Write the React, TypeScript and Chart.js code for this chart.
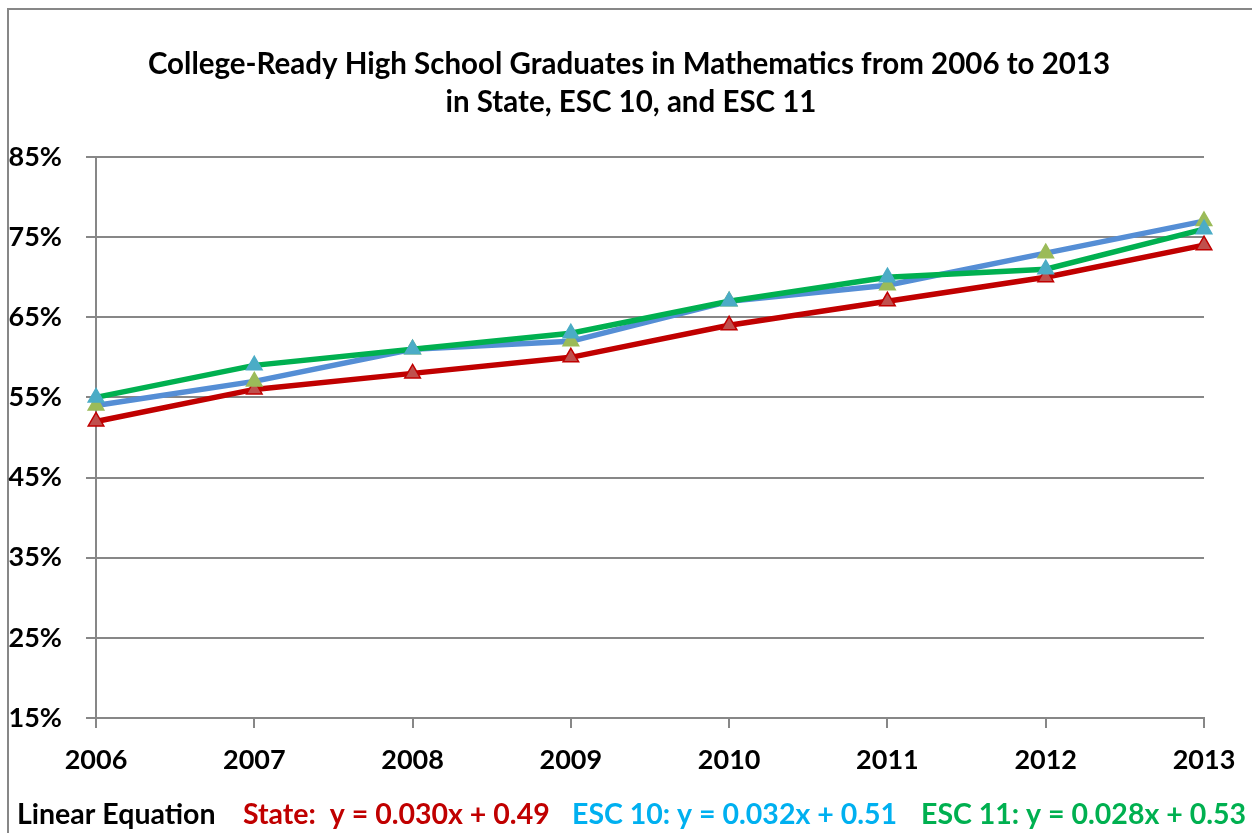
import { useEffect, useRef } from "react";
import { Chart, registerables } from "chart.js";

Chart.register(...registerables);

const years = ["2006", "2007", "2008", "2009", "2010", "2011", "2012", "2013"];
const stateValues = [52, 56, 58, 60, 64, 67, 70, 74];
const esc10Values = [54, 57, 61, 62, 67, 69, 73, 77];
const esc11Values = [55, 59, 61, 63, 67, 70, 71, 76];
const yMin = 15;
const yMax = 85;
const yStep = 10;
const titleLines = [
  "College-Ready High School Graduates in Mathematics from 2006 to 2013",
  "in State, ESC 10, and ESC 11",
];
const footerTexts = [
  "Linear Equation",
  "State:  y = 0.030x + 0.49",
  "ESC 10: y = 0.032x + 0.51",
  "ESC 11: y = 0.028x + 0.53",
];
const footerColors = ["#000000", "#C00000", "#00B0F0", "#00B050"];
const footerX = [17, 243, 572, 921];

const FONT = "Lato, 'Open Sans', sans-serif";
const GRID = "#878787";

const decorPlugin = {
  id: "decor",
  beforeDraw(chart: any) {
    const ctx = chart.ctx;
    ctx.save();
    ctx.fillStyle = "#ffffff";
    ctx.fillRect(0, 0, chart.width, chart.height);
    ctx.strokeStyle = GRID;
    ctx.lineWidth = 2;
    ctx.beginPath();
    ctx.moveTo(8, 900);
    ctx.lineTo(8, 9);
    ctx.lineTo(1300, 9);
    ctx.stroke();
    ctx.restore();
  },
  afterDraw(chart: any) {
    const ctx = chart.ctx;
    ctx.save();
    ctx.textBaseline = "middle";
    ctx.textAlign = "center";
    ctx.fillStyle = "#000";
    ctx.font = `bold 29.5px ${FONT}`;
    ctx.fillText(titleLines[0], 629, 64);
    ctx.fillText(titleLines[1], 631, 102);
    ctx.textAlign = "left";
    ctx.font = `bold 28.5px ${FONT}`;
    footerTexts.forEach((t, i) => {
      ctx.fillStyle = footerColors[i];
      ctx.fillText(t, footerX[i], 815);
    });
    ctx.restore();
  },
};

export default function App() {
  const ref = useRef<HTMLCanvasElement>(null);
  useEffect(() => {
    const tri = { pointStyle: "triangle", pointRadius: 9, pointHoverRadius: 9, pointBorderWidth: 1.5 };
    const chart = new Chart(ref.current!, {
      type: "line",
      data: {
        labels: years,
        datasets: [
          {
            label: "ESC 11",
            data: esc11Values,
            borderColor: "#00B050",
            borderWidth: 5.5,
            pointBackgroundColor: "#4BACC6",
            pointBorderColor: "#4BACC6",
            ...tri,
          },
          {
            label: "ESC 10",
            data: esc10Values,
            borderColor: "#558ED5",
            borderWidth: 5.5,
            pointBackgroundColor: "#9BBB59",
            pointBorderColor: "#9BBB59",
            ...tri,
          },
          {
            label: "State",
            data: stateValues,
            borderColor: "#C00000",
            borderWidth: 5.5,
            pointBackgroundColor: "#C0504D",
            pointBorderColor: "#C00000",
            ...tri,
          },
        ] as any,
      },
      options: {
        responsive: false,
        animation: false,
        events: [],
        layout: { padding: { top: 157, right: 48, left: 0, bottom: 0 } },
        plugins: { legend: { display: false }, tooltip: { enabled: false }, title: { display: false } },
        scales: {
          x: {
            type: "category",
            offset: false,
            afterFit: (s: any) => {
              s.height = 115;
            },
            grid: { display: true, drawOnChartArea: false, drawTicks: true, tickLength: 10, color: GRID, lineWidth: 2 },
            border: { display: true, color: GRID, width: 2 },
            ticks: { color: "#000", font: { family: FONT, size: 27, weight: "bold" }, padding: 16, maxRotation: 0 },
          },
          y: {
            min: yMin,
            max: yMax,
            afterFit: (s: any) => {
              s.width = 96;
            },
            grid: { color: GRID, lineWidth: 2, tickLength: 10 },
            border: { display: true, color: GRID, width: 2 },
            ticks: {
              stepSize: yStep,
              color: "#000",
              font: { family: FONT, size: 27, weight: "bold" },
              padding: 24,
              callback: (v: any) => `${v}%`,
            },
          },
        },
      } as any,
      plugins: [decorPlugin],
    });
    return () => chart.destroy();
  }, []);
  return (
    <canvas
      ref={ref}
      width={1252}
      height={833}
      style={{ position: "fixed", left: 0, top: 0, width: 1252, height: 833 }}
    />
  );
}
